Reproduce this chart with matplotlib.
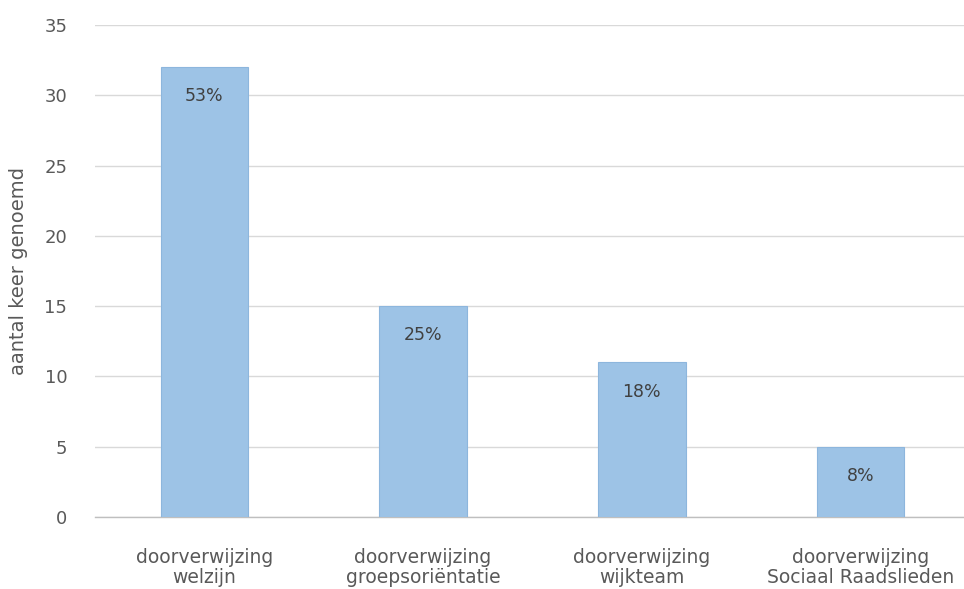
import matplotlib
matplotlib.use("Agg")
import matplotlib.pyplot as plt

categories = ["doorverwijzing\nwelzijn", "doorverwijzing\ngroepsoriëntatie",
              "doorverwijzing\nwijkteam", "doorverwijzing\nSociaal Raadslieden"]
values = [32, 15, 11, 5]
pct_labels = ["53%", "25%", "18%", "8%"]
yticks = [0, 5, 10, 15, 20, 25, 30, 35]

plt.rcParams['font.family'] = ['DejaVu Sans']
fig = plt.figure(figsize=(9.64, 5.89), dpi=100)
ax = fig.add_axes([95/964, 72/589, (964-95)/964, (517-25)/589])

x = list(range(len(categories)))
bars = ax.bar(x, values, width=0.40, color="#9DC3E6", edgecolor="#8DB6DD", linewidth=0.8, zorder=3)

for xi, v, lab in zip(x, values, pct_labels):
    ax.annotate(lab, (xi, v), xytext=(0, -21), textcoords="offset points",
                ha="center", va="center", fontsize=12.5, color="#404040", zorder=4)

ax.set_xlim(-0.5, 3.5 - 6/219)
ax.set_ylim(0, 35)
ax.set_yticks(yticks)
ax.set_yticklabels([str(t) for t in yticks])
ax.set_xticks(x)
ax.set_xticklabels(categories, fontsize=13.5, color="#595959", linespacing=1.1)
ax.tick_params(axis="y", length=0, pad=20, labelsize=13, labelcolor="#595959")
ax.tick_params(axis="x", length=0, pad=22)
ax.yaxis.grid(True, color="#D9D9D9", linewidth=1.0, zorder=0)
for s in ["top", "right", "left"]:
    ax.spines[s].set_visible(False)
ax.spines["bottom"].set_color("#BFBFBF")
ax.spines["bottom"].set_linewidth(1.0)
ax.set_ylabel("aantal keer genoemd", fontsize=14, color="#595959", labelpad=12)

fig.savefig("out.png", dpi=100)
